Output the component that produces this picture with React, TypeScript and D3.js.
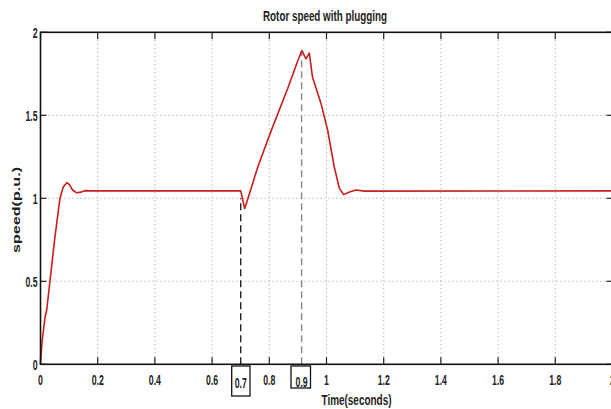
import React from "react";
import * as d3 from "d3";

const timeS = [0, 0.005, 0.016, 0.022, 0.033, 0.05, 0.068, 0.08, 0.092, 0.1, 0.112, 0.127, 0.14, 0.155, 0.17, 0.7, 0.706, 0.714, 0.722, 0.76, 0.805, 0.864, 0.9, 0.914, 0.928, 0.94, 0.951, 0.981, 1.004, 1.027, 1.045, 1.06, 1.08, 1.103, 1.133, 2.0];
const speedPU = [0, 0.13, 0.285, 0.33, 0.5, 0.76, 1.0, 1.07, 1.094, 1.085, 1.05, 1.033, 1.037, 1.046, 1.045, 1.045, 1.0, 0.938, 0.98, 1.19, 1.4, 1.66, 1.83, 1.89, 1.84, 1.875, 1.73, 1.57, 1.41, 1.19, 1.06, 1.022, 1.038, 1.05, 1.043, 1.045];
const xTicks = [0, 0.2, 0.4, 0.6, 0.8, 1, 1.2, 1.4, 1.6, 1.8, 2];
const yTicks = [0, 0.5, 1, 1.5, 2];
const markers = [
  { t: 0.7, label: "0.7", v: 1.0 },
  { t: 0.913, label: "0.9", v: 1.89 },
];
const title = "Rotor speed with plugging";
const xLabel = "Time(seconds)";
const yLabel = "speed(p.u.)";

export default function App() {
  const W = 611, H = 409;
  const x = d3.scaleLinear().domain([0, 2]).range([40.5, 612.5]);
  const y = d3.scaleLinear().domain([0, 2]).range([364.3, 32.3]);
  const pts = timeS.map((t, i) => [t, speedPU[i]] as [number, number]);
  const line = d3.line<[number, number]>().x(d => x(d[0])).y(d => y(d[1]));
  const font = "'Liberation Sans', Arial, sans-serif";
  const fmt = (v: number) => String(v);
  const sx = 0.58;
  return (
    <svg width={W} height={H} style={{ position: "absolute", left: 0, top: 0, background: "#fff" }}>
      <rect x={0} y={0} width={W} height={H} fill="#fff" />
      {xTicks.slice(1, -1).map(t => (
        <line key={"gx" + t} x1={x(t)} x2={x(t)} y1={y(2)} y2={y(0)} stroke="#9a9a9a" strokeWidth={1} strokeDasharray="1,3" />
      ))}
      {yTicks.slice(1, -1).map(v => (
        <line key={"gy" + v} x1={x(0)} x2={x(2)} y1={y(v)} y2={y(v)} stroke="#9a9a9a" strokeWidth={1} strokeDasharray="1,3" />
      ))}
      {xTicks.map(t => (
        <g key={"tx" + t}>
          <line x1={x(t)} x2={x(t)} y1={y(0)} y2={y(0) - 7} stroke="#222" strokeWidth={1.2} />
          <line x1={x(t)} x2={x(t)} y1={y(2)} y2={y(2) + 7} stroke="#222" strokeWidth={1.2} />
        </g>
      ))}
      {yTicks.map(v => (
        <g key={"ty" + v}>
          <line x1={x(0)} x2={x(0) + 6} y1={y(v)} y2={y(v)} stroke="#222" strokeWidth={1.2} />
          <line x1={x(2)} x2={x(2) - 6} y1={y(v)} y2={y(v)} stroke="#222" strokeWidth={1.2} />
        </g>
      ))}
      <line x1={x(markers[0].t)} x2={x(markers[0].t)} y1={y(0)} y2={y(markers[0].v)} stroke="#222" strokeWidth={1.4} strokeDasharray="7,4" />
      <line x1={x(markers[1].t)} x2={x(markers[1].t)} y1={y(0)} y2={y(markers[1].v)} stroke="#888" strokeWidth={1.4} strokeDasharray="7,4" />
      <path d={line(pts) || ""} fill="none" stroke="#c81e1e" strokeWidth={1.6} strokeLinejoin="round" />
      <rect x={x(0)} y={y(2)} width={x(2) - x(0)} height={y(0) - y(2)} fill="none" stroke="#111" strokeWidth={1.6} />
      {xTicks.map(t => (
        <text key={"lx" + t} transform={`translate(${x(t)},385) scale(${sx},1)`} textAnchor="middle" fontFamily={font} fontWeight="bold" fontSize={15} fill="#222">
          {fmt(t)}
        </text>
      ))}
      {yTicks.map(v => (
        <text key={"ly" + v} transform={`translate(37.5,${y(v) + 5.3}) scale(${sx},1)`} textAnchor="end" fontFamily={font} fontWeight="bold" fontSize={15} fill="#222">
          {fmt(v)}
        </text>
      ))}
      <rect x={231.7} y={366} width={18.3} height={30} fill="#fff" stroke="#111" strokeWidth={1.3} />
      <text transform={`translate(${x(markers[0].t)},388) scale(${sx},1)`} textAnchor="middle" fontFamily={font} fontWeight="bold" fontSize={15} fill="#222">{markers[0].label}</text>
      <rect x={291} y={366} width={19.5} height={22} fill="#fff" stroke="#111" strokeWidth={1.3} />
      <text transform={`translate(${x(markers[1].t)},386.5) scale(${sx},1)`} textAnchor="middle" fontFamily={font} fontWeight="bold" fontSize={15} fill="#222">{markers[1].label}</text>
      <text x={325} y={21} textAnchor="middle" fontFamily={font} fontWeight="bold" fontSize={14.5} textLength={124} lengthAdjust="spacingAndGlyphs" fill="#222">{title}</text>
      <text x={321.5} y={405} fontFamily={font} fontWeight="bold" fontSize={14} textLength={70} lengthAdjust="spacingAndGlyphs" fill="#222">{xLabel}</text>
      <text transform="translate(19.5,210) rotate(-90)" textAnchor="middle" fontFamily={font} fontWeight="bold" fontSize={11} textLength={86} lengthAdjust="spacingAndGlyphs" fill="#222">{yLabel}</text>
    </svg>
  );
}
